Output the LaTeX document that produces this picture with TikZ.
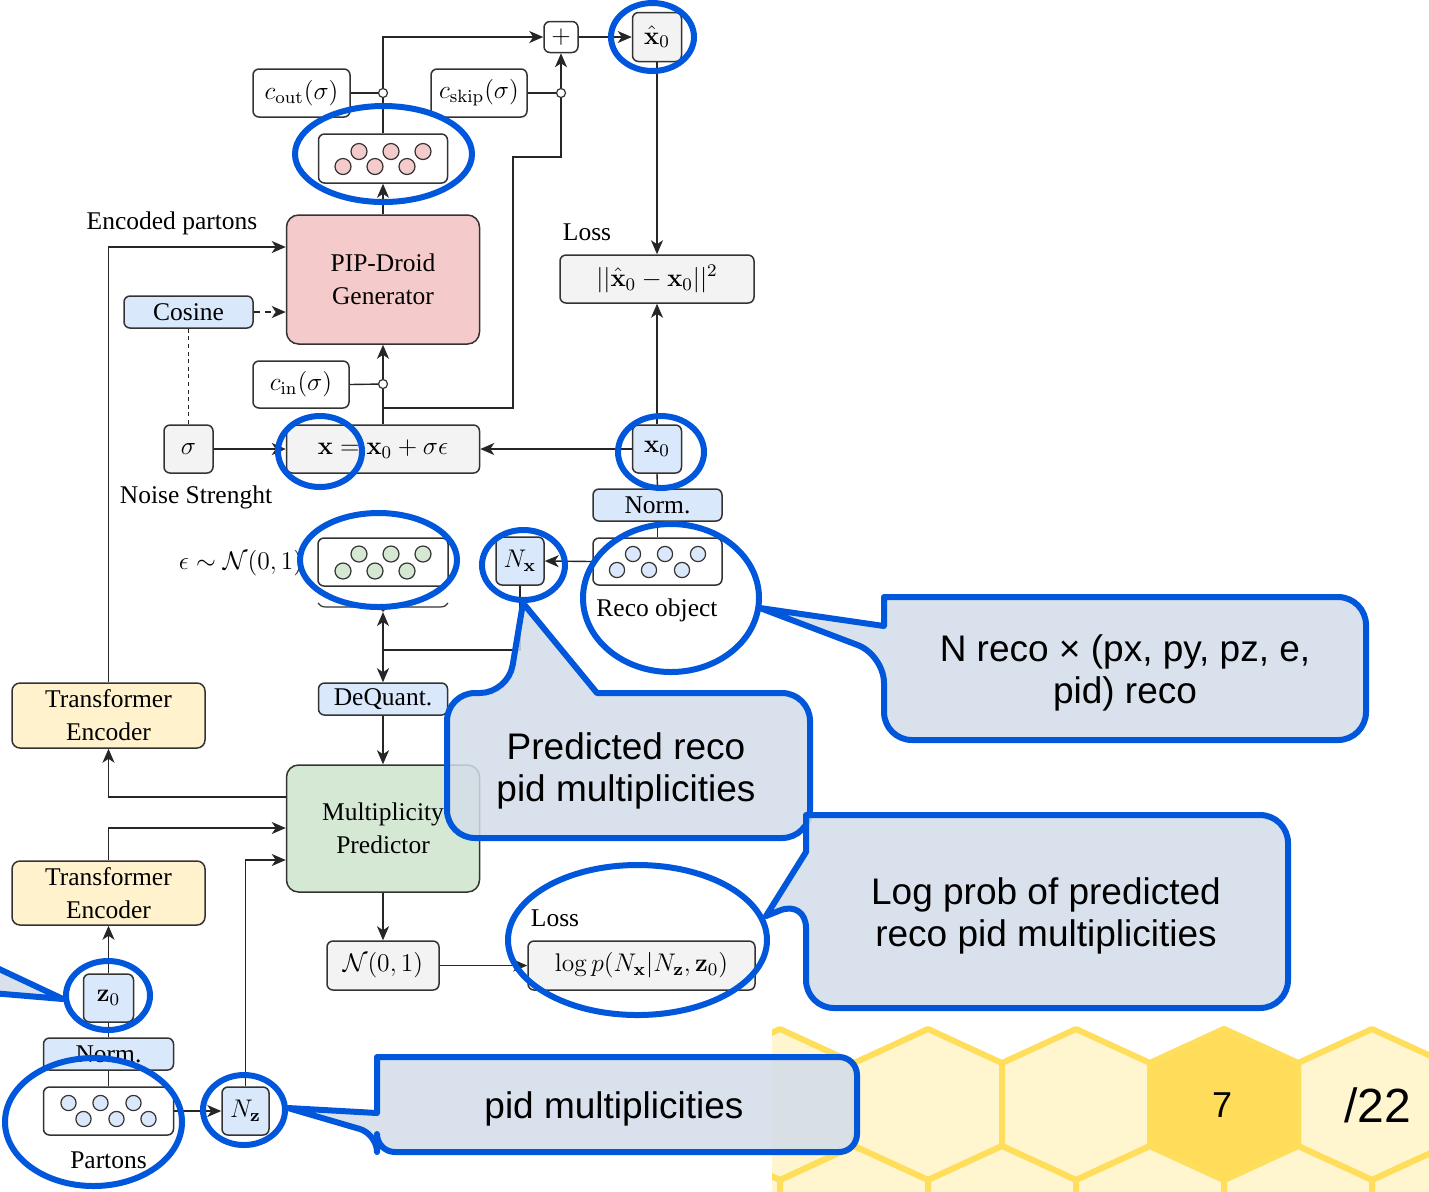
\RequirePackage{fix-cm}
\documentclass[tikz,border=0pt]{standalone}
\usepackage[no-math]{fontspec}
\setmainfont{Liberation Serif}
\newfontfamily\calloutfont{Liberation Sans}
\usetikzlibrary{arrows.meta,decorations.pathreplacing,calc}

\definecolor{edge}{HTML}{333333}
\definecolor{boxgray}{HTML}{F3F3F3}
\definecolor{boxblue}{HTML}{DAE8FC}
\definecolor{genpink}{HTML}{F5CACA}
\definecolor{mpgreen}{HTML}{D5E8D4}
\definecolor{teyellow}{HTML}{FFF2CC}
\definecolor{hlblue}{HTML}{0057DB}
\definecolor{callfill}{HTML}{D3DDE9}
\definecolor{hexline}{HTML}{FFDE5C}
\definecolor{hexpale}{HTML}{FFF5CF}
\definecolor{hexdark}{HTML}{FFDD5A}

\newcommand\diagfont{\fontsize{12.75}{16.5}\selectfont}

\begin{document}
\begin{tikzpicture}[x=0.5pt,y=-0.5pt,
  conn/.style={draw=black!85, line width=0.7pt},
  arr/.style={conn, -{Stealth[length=7pt,width=6pt,inset=2pt]}},
  boxbase/.style={draw=edge, line width=0.75pt, rounded corners=3pt, inner sep=0pt, align=center, font=\diagfont},
  gbox/.style={boxbase, fill=boxgray},
  bbox/.style={boxbase, fill=boxblue},
  wbox/.style={boxbase, fill=white},
  bigbox/.style={boxbase, rounded corners=6pt, minimum width=96.5pt},
  lbl/.style={font=\diagfont, inner sep=0pt},
  jdot/.style={circle, draw=edge, fill=white, line width=0.6pt, inner sep=0pt, minimum size=4.5pt},
  ball/.style={draw=edge, line width=0.6pt},
  ring/.style={draw=hlblue, line width=3pt},
  callout/.style={draw=hlblue, line width=3pt, fill=callfill, fill opacity=0.85, line join=round},
  ctext/.style={font=\calloutfont\fontsize{18.5}{21}\selectfont, align=center, inner sep=0pt},
  hexcell/.style={draw=hexline, line width=3pt, fill=hexpale, line join=round}
]
\useasboundingbox (0,0) rectangle (1429,1191);
\fill[white] (0,0) rectangle (1429,1191);

% honeycomb footer
\begin{scope}
  \clip (772,1000) rectangle (1429,1191);
  \foreach \c in {632,780,928,1076,1224,1372,1520}
    \draw[hexcell] ({\c},1029) -- ({\c+74},1063) -- ({\c+74},1146) -- ({\c},1180) -- ({\c-74},1146) -- ({\c-74},1063) -- cycle;
  \foreach \c in {706,854,1002,1150,1298,1446}
    \draw[hexcell] ({\c},1146) -- ({\c+74},1180) -- ({\c+74},1263) -- ({\c},1297) -- ({\c-74},1263) -- ({\c-74},1180) -- cycle;
  \draw[hexcell, fill=hexdark] (1224,1029) -- (1298,1063) -- (1298,1146) -- (1224,1180) -- (1150,1146) -- (1150,1063) -- cycle;
\end{scope}
\node[font=\calloutfont\fontsize{18}{20}\selectfont] (pg) at (1222,1105) {7};
\node[font=\calloutfont\fontsize{24}{26}\selectfont] (tot) at (1378,1105) {/22};

% nodes
\node[wbox, minimum width=17pt, minimum height=15.5pt] (plus) at (561,37) {$+$};
\node[gbox, minimum width=24.5pt, minimum height=24.5pt] (xhat) at (657,37) {$\hat{\mathbf{x}}_0$};
\node[wbox, minimum width=48.5pt, minimum height=24pt] (cout) at (301.5,93) {$c_{\mathrm{out}}(\sigma)$};
\node[wbox, minimum width=48pt, minimum height=24pt] (cskip) at (479,93) {$c_{\mathrm{skip}}(\sigma)$};
\node[wbox, minimum width=64.5pt, minimum height=24.5pt] (pink) at (383,158.5) {};
\node[bigbox, fill=genpink, minimum height=64.5pt] (gen) at (383,279.5) {PIP-Droid\\Generator};
\node[bbox, minimum width=64.5pt, minimum height=16pt] (cos) at (188.5,312) {Cosine};
\node[wbox, minimum width=48pt, minimum height=23.5pt] (cin) at (301,384.5) {$c_{\mathrm{in}}(\sigma)$};
\node[gbox, minimum width=24.5pt, minimum height=24pt] (sig) at (188.5,449) {$\sigma$};
\node[gbox, minimum width=96.5pt, minimum height=24pt] (eq) at (383,449) {$\mathbf{x} = \mathbf{x}_0 + \sigma\epsilon$};
\node[gbox, minimum width=97pt, minimum height=24pt] (loss) at (657,279) {$||\hat{\mathbf{x}}_0 - \mathbf{x}_0||^2$};
\node[bbox, minimum width=24.5pt, minimum height=24pt] (x0) at (657,449) {$\mathbf{x}_0$};
\node[bbox, minimum width=64.5pt, minimum height=16pt] (normR) at (657.5,505) {Norm.};
\node[wbox, minimum width=64.5pt, minimum height=23.5pt] (reco) at (657.5,561.5) {};
\node[bbox, minimum width=24pt, minimum height=24pt] (Nx) at (520,561) {$N_{\mathbf{x}}$};
\node[wbox, minimum width=65pt, minimum height=24pt] (eps) at (383,562) {};
\node[bbox, minimum width=64.5pt, minimum height=16pt] (deq) at (383,699) {DeQuant.};
\node[bigbox, fill=mpgreen, minimum height=63.5pt] (mp) at (383,828.5) {Multiplicity\\Predictor};
\node[bigbox, rounded corners=4pt, fill=teyellow, minimum height=32.5pt] (teU) at (108.5,715.5) {Transformer\\Encoder};
\node[bigbox, rounded corners=4pt, fill=teyellow, minimum height=32pt] (teL) at (108.5,893) {Transformer\\Encoder};
\node[bbox, minimum width=25pt, minimum height=24pt] (z0) at (108.5,998) {$\mathbf{z}_0$};
\node[bbox, minimum width=65pt, minimum height=16pt] (normL) at (108.5,1054) {Norm.};
\node[wbox, minimum width=65pt, minimum height=24pt] (part) at (108.5,1111) {};
\node[bbox, minimum width=23.5pt, minimum height=24pt] (Nz) at (245.5,1111) {$N_{\mathbf{z}}$};
\node[gbox, minimum width=56pt, minimum height=24.5pt] (nrm) at (383,965.5) {$\mathcal{N}(0,1)$};
\node[gbox, minimum width=113.5pt, minimum height=24.5pt] (logp) at (641.5,965.5) {$\log p(N_{\mathbf{x}}|N_{\mathbf{z}},\mathbf{z}_0)$};

% particles
\foreach \dx/\dy in {-40/8,-24/-7,-8/8,8/-7,24/8,40/-7}
  \draw[ball, fill=genpink] ($(pink.center)+(\dx,\dy)$) circle[radius=4pt];
\foreach \dx/\dy in {-40/9,-24/-8,-8/9,8/-8,24/9,40/-8}
  \draw[ball, fill=mpgreen] ($(eps.center)+(\dx,\dy)$) circle[radius=4pt];
\foreach \dx/\dy in {-40.5/8.5,-24.5/-7.5,-8.5/8.5,7.5/-7.5,24.5/8.5,40.5/-7.5}
  \draw[ball, fill=boxblue] ($(reco.center)+(\dx,\dy)$) circle[radius=3.8pt];
\foreach \dx/\dy in {-40/-8,-25/8,-8/-8,8/8,25/-8,40/8}
  \draw[ball, fill=boxblue] ($(part.center)+(\dx,\dy)$) circle[radius=3.8pt];

% labels
\node[lbl] (encl) at (172,223) {Encoded partons};
\node[lbl] (noisel) at (196,497) {Noise Strenght};
\node[lbl] (lossl) at (587,232) {Loss};
\node[lbl] (recol) at (657,610) {Reco object};
\node[lbl] (partl) at (108.5,1160) {Partons};
\node[lbl] (loss2l) at (555,918) {Loss};
\node[lbl] (epsl) at (241,563) {$\epsilon \sim \mathcal{N}(0,1)$};

% helper points
\coordinate (skipstart) at (383,408);
\coordinate (skipA) at (513,408);
\coordinate (skipB) at (513,157);
\coordinate (junc) at (383,650);
\coordinate (brL) at (318,603);
\coordinate (brR) at (448,603);
\coordinate (brtip) at (383,612);

% connectors
\draw[arr] (pink.north) |- (plus.west);
\draw[conn] (cout.east) -- (383,93);
\draw[conn] (cskip.east) -- (561,93);
\draw[arr] (skipstart) -- (skipA) -- (skipB) -| (plus.south);
\draw[arr] (plus.east) -- (xhat.west);
\draw[arr] (gen.north) -- (pink.south);
\draw[arr] (eq.north) -- (gen.south);
\draw[conn] (cin.east) -- (383,384);
\draw[arr] (teU.north) |- (gen.west |- 0,247);
\draw[arr, dash pattern=on 3pt off 2.5pt] (cos.east) -- (gen.west |- cos.east);
\draw[conn, dash pattern=on 2pt off 1.8pt] (cos.south) -- (sig.north);
\draw[arr] (sig.east) -- (eq.west);
\draw[arr] (x0.west) -- (eq.east);
\draw[arr] (xhat.south) -- (loss.north);
\draw[arr] (x0.north) -- (loss.south);
\draw[conn] (x0.south) -- (normR.north);
\draw[conn] (normR.south) -- (reco.north);
\draw[arr] (reco.west) -- (Nx.east);
\draw[conn] (Nx.south) |- (junc);
\draw[arr] (junc) -- (brtip);
\draw[arr] (junc) -- (deq.north);
\draw[draw=edge, line width=0.6pt, decorate, decoration={brace, mirror, amplitude=4pt}] (brL) -- (brR);
\draw[arr] (deq.south) -- (mp.north);
\draw[arr] (mp.west |- 0,797) -| (teU.south);
\draw[arr] (teL.north) |- (mp.west |- 0,828);
\draw[arr] (Nz.north) |- (mp.west |- 0,860);
\draw[arr] (z0.north) -- (teL.south);
\draw[conn] (z0.south) -- (normL.north);
\draw[conn] (normL.south) -- (part.north);
\draw[arr] (part.east) -- (Nz.west);
\draw[arr] (mp.south) -- (nrm.north);
\draw[arr] (nrm.east) -- (logp.west);

% junction dots
\node[jdot] (dout) at (383,93) {};
\node[jdot] (dskip) at (561,93) {};
\node[jdot] (din) at (383,384) {};

% highlight rings
\draw[ring] (652.5,37) ellipse [x radius=20.75pt, y radius=17pt];
\draw[ring] (383.5,154) ellipse [x radius=44.25pt, y radius=24pt];
\draw[ring] (320,451.5) ellipse [x radius=21pt, y radius=17.75pt];
\draw[ring] (661,452) ellipse [x radius=21.5pt, y radius=18pt];
\draw[ring] (378.5,560) ellipse [x radius=39.25pt, y radius=23.5pt];
\draw[ring] (523.5,565) ellipse [x radius=20.75pt, y radius=17.5pt];
\draw[ring] (671,598) ellipse [x radius=44pt, y radius=37pt];
\draw[ring] (637.5,940) ellipse [x radius=64.75pt, y radius=37.5pt];
\draw[ring] (108,995.5) ellipse [x radius=21pt, y radius=17.25pt];
\draw[ring] (93.5,1122) ellipse [x radius=44.25pt, y radius=32pt];
\draw[ring] (244,1110) ellipse [x radius=20.5pt, y radius=17.5pt];

% callouts
\draw[callout] (1100,597) [rounded corners=14pt] -- (1366,597) -- (1366,740) -- (884,740) -- (884,655) [sharp corners] -- (760,608) -- (884,626) -- (884,597) [rounded corners=13pt] -- cycle;
\node[ctext] (tA) at (1125,673) {N reco × (px, py, pz, e,\\pid) reco};

\draw[callout] (700,693) [rounded corners=14pt] -- (810,693) -- (810,838) -- (447,838) -- (447,693) -- (508,693) [sharp corners] -- (523,603) -- (597,693) -- cycle;
\node[ctext] (tB) at (626,771) {Predicted reco\\pid multiplicities};

\draw[callout] (1046,815) [rounded corners=14pt] -- (1288,815) -- (1288,1008) -- (806,1008) -- (806,900) [sharp corners] -- (766,916) -- (806,852) -- (806,815) [rounded corners=14pt] -- cycle;
\node[ctext] (tC) at (1046,916) {Log prob of predicted\\reco pid multiplicities};

\draw[callout] (600,1057) [rounded corners=9pt] -- (857,1057) -- (857,1152) -- (377,1152) -- (377,1134) [sharp corners] -- (288,1108) -- (377,1113) -- (377,1057) [rounded corners=9pt] -- cycle;
\node[ctext] (tD) at (614,1109) {pid multiplicities};

\draw[callout] (-20,960) -- (63,999) -- (-20,992) -- cycle;
\end{tikzpicture}
\end{document}
